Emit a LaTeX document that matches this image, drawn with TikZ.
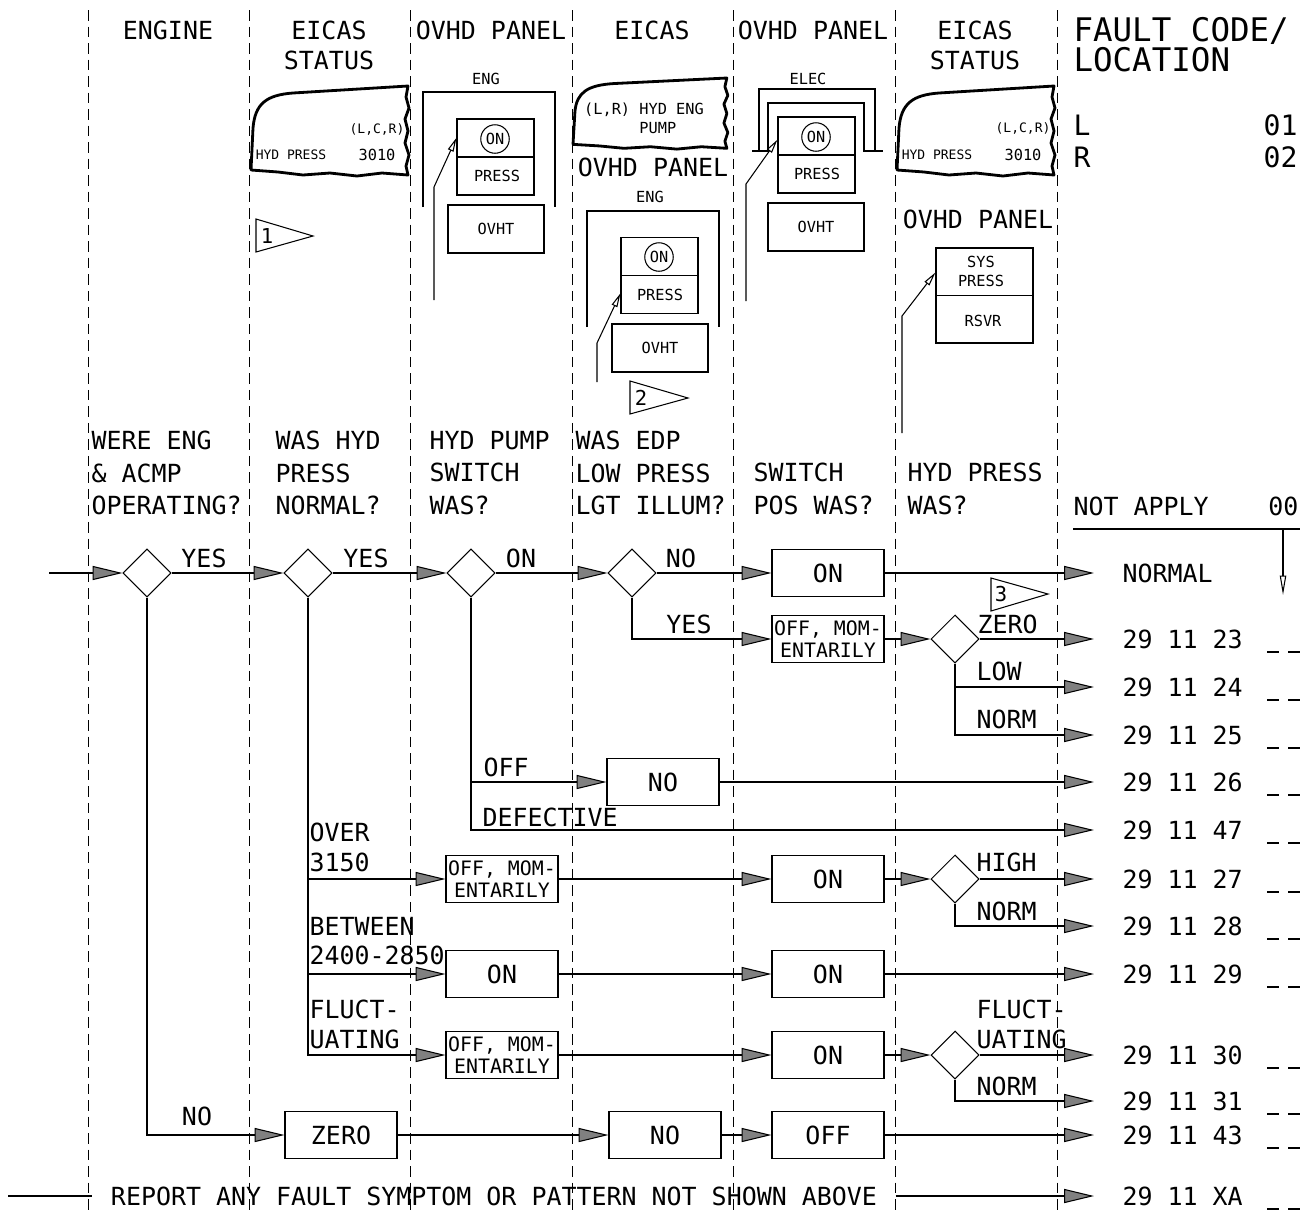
\documentclass[tikz,border=0pt]{standalone}
\usepackage{fontspec}
\setmainfont{DejaVu Sans Mono}
\usepackage{tikz}
\usetikzlibrary{arrows.meta, shapes.geometric, calc}

\begin{document}
\begin{tikzpicture}[
  x=0.02cm, y=-0.02cm,
  font=\fontsize{14.2pt}{18.7pt}\selectfont,
  line width=0.6pt,
  colsep/.style={line width=0.5pt, dash pattern=on 6pt off 3.4pt},
  txt/.style={inner sep=0pt},
  hdr/.style={txt, align=center, font=\fontsize{14.2pt}{17pt}\selectfont},
  qtext/.style={txt, anchor=west, align=left},
  branchtext/.style={txt, anchor=west, align=left, font=\fontsize{14.2pt}{17pt}\selectfont},
  bigtext/.style={txt, anchor=west, align=left, font=\fontsize{18.5pt}{17pt}\selectfont},
  loctext/.style={txt, font=\fontsize{16pt}{17pt}\selectfont},
  paneltext/.style={txt, font=\fontsize{8.7pt}{10.8pt}\selectfont},
  screentext/.style={txt, font=\fontsize{7.4pt}{9pt}\selectfont},
  flagnum/.style={txt, font=\fontsize{11.7pt}{12pt}\selectfont},
  choice/.style={draw, diamond, aspect=1, minimum width=0.96cm, minimum height=0.96cm, inner sep=0pt},
  actbox/.style={draw, rectangle, minimum width=2.24cm, minimum height=0.94cm, inner sep=0pt},
  momentbox/.style={actbox, align=center, font=\fontsize{11.3pt}{12.5pt}\selectfont},
  swbox/.style={draw, minimum width=1.54cm, minimum height=1.52cm, inner sep=0pt},
  ovhtbox/.style={draw, paneltext, minimum width=1.92cm, minimum height=0.96cm},
  onlamp/.style={draw, circle, paneltext, minimum size=0.57cm},
  faultcode/.style={anchor=west, inner ysep=0pt, inner xsep=0.56cm},
  flow/.style={-{Triangle[length=17pt, width=8pt, fill=gray]}},
  pointer/.style={-{Triangle[open, length=8pt, width=3.4pt]}},
  screen/.pic={
    \draw[line width=1.6pt, line join=round] (0,84) -- (2,42)
      .. controls (4,18) and (15,9) .. (42,7) -- (157,0) -- (155,11) -- (158,22)
      -- (154,33) -- (157,45) -- (154,57) -- (158,69) -- (155,80) -- (157,89)
      -- (131,87) -- (106,90) -- (79,87) -- (52,89) -- (27,86) -- cycle;
  }
]
\useasboundingbox (0,0) rectangle (1308,1211);

% column rules
\foreach \cx in {88,249,410,572,733,895,1057}
  \draw[colsep] (\cx,10) -- (\cx,1211);

% headings
\node[hdr] (hEngine) at (168,30) {ENGINE};
\node[hdr] (hStatA) at (329,45) {EICAS\\STATUS};
\node[hdr] (hOvhdA) at (491,30) {OVHD PANEL};
\node[hdr] (hEicas) at (652,30) {EICAS};
\node[hdr] (hOvhdB) at (813,30) {OVHD PANEL};
\node[hdr] (hStatB) at (975,45) {EICAS\\STATUS};
\node[bigtext] (hFault) at (1073,45) {FAULT CODE/\\LOCATION};
\node[loctext, anchor=west] (locL) at (1073,125) {L};
\node[loctext, anchor=west] (locR) at (1073,157) {R};
\node[loctext, anchor=east] (codeL) at (1298,125) {01};
\node[loctext, anchor=east] (codeR) at (1298,157) {02};

% eicas status screen, col 2
\pic at (251,86) {screen};
\node[screentext] (scrAa) at (377,129) {(L,C,R)};
\node[screentext] (scrAb) at (291,155) {HYD PRESS};
\node[paneltext] (scrAc) at (377,155) {3010};
\draw (256,219) -- (256,252) -- (313,236) -- cycle;
\node[flagnum] (flagA) at (267,236) {1};

% ovhd panel, col 3
\node[paneltext] (engA) at (486,79) {ENG};
\draw (423,207) -- (423,92) -- (555,92) -- (555,207);
\node[swbox] (swA) at (495.5,157) {};
\draw (swA.west) -- (swA.east);
\node[onlamp] (onA) at (495,139) {ON};
\node[paneltext] (prA) at (497,176) {PRESS};
\node[ovhtbox] (ovA) at (496,229) {OVHT};
\coordinate (ptA) at (434,300);
\draw[pointer] (ptA) -- (434,187) -- ($(swA.north west)!0.25!(swA.south west)$);

% eicas msg + ovhd panel, col 4
\pic[xscale=0.98, yscale=0.79] at (573,78) {screen};
\node[paneltext, align=left] (scrB) at (644,119) {(L,R) HYD ENG\\\phantom{(L,R) }PUMP};
\node[hdr] (pnlB) at (653,167) {OVHD PANEL};
\node[paneltext] (engB) at (650,197) {ENG};
\draw (587,327) -- (587,211) -- (719,211) -- (719,327);
\node[swbox] (swB) at (659.5,275.5) {};
\draw (swB.west) -- (swB.east);
\node[onlamp] (onB) at (659,257) {ON};
\node[paneltext] (prB) at (660,295) {PRESS};
\node[ovhtbox] (ovB) at (660,348) {OVHT};
\coordinate (ptB) at (597,382);
\draw[pointer] (ptB) -- (597,343) -- ($(swB.north west)!0.73!(swB.south west)$);
\draw (630,381) -- (630,414) -- (688,398) -- cycle;
\node[flagnum] (flagB) at (641,398) {2};

% ovhd panel, col 5
\node[paneltext] (elec) at (808,79) {ELEC};
\draw (759,151) -- (759,89) -- (875,89) -- (875,151);
\draw (752,151) -- (768,151) -- (768,103) -- (864,103) -- (864,151) -- (883,151);
\node[swbox] (swC) at (816.5,155) {};
\draw (swC.west) -- (swC.east);
\node[onlamp] (onC) at (816,137) {ON};
\node[paneltext] (prC) at (817,174) {PRESS};
\node[ovhtbox] (ovC) at (816,227) {OVHT};
\coordinate (ptC) at (746,301);
\draw[pointer] (ptC) -- (746,184) -- ($(swC.north west)!0.3!(swC.south west)$);

% eicas status + ovhd panel, col 6
\pic at (897,86) {screen};
\node[screentext] (scrCa) at (1023,128) {(L,C,R)};
\node[screentext] (scrCb) at (937,155) {HYD PRESS};
\node[paneltext] (scrCc) at (1023,155) {3010};
\node[hdr] (pnlC) at (978,219) {OVHD PANEL};
\node[draw, minimum width=1.94cm, minimum height=1.9cm, inner sep=0pt] (sys) at (984.5,295.5) {};
\draw (sys.west) -- (sys.east);
\node[paneltext, align=center] (sysP) at (981,271) {SYS\\PRESS};
\node[paneltext] (rsvr) at (983,321) {RSVR};
\coordinate (ptD) at (902,433);
\draw[pointer] (ptD) -- (902,316) -- ($(sys.north west)!0.26!(sys.south west)$);

% questions
\node[qtext] (qEng) at (91,473) {WERE ENG\\\& ACMP\\OPERATING?};
\node[qtext] (qPress) at (275,473) {WAS HYD\\PRESS\\NORMAL?};
\node[qtext] (qPump) at (429,473) {HYD PUMP\\SWITCH\\WAS?};
\node[qtext] (qEdp) at (575,473) {WAS EDP\\LOW PRESS\\LGT ILLUM?};
\node[qtext] (qPos) at (753,489) {SWITCH\\POS WAS?};
\node[qtext] (qHyd) at (907,489) {HYD PRESS\\WAS?};
\node[qtext] (notAp) at (1073,506) {NOT APPLY};
\node[txt, anchor=east] (code00) at (1299,506) {00};
\coordinate (naL) at (1073,529);
\coordinate (naR) at (1300,529);
\coordinate (naTop) at (1283,529);
\coordinate (naBot) at (1283,595);
\draw (naL) -- (naR);
\draw[-{Triangle[open, length=11pt, width=3.6pt]}] (naTop) -- (naBot);

% fault codes
\foreach \nm/\yy/\cd in {Normal/573/NORMAL, 23/639/29 11 23, 24/687/29 11 24,
    25/735/29 11 25, 26/782/29 11 26, 47/830/29 11 47, 27/879/29 11 27,
    28/926/29 11 28, 29/974/29 11 29, 30/1055/29 11 30, 31/1101/29 11 31,
    43/1135/29 11 43, XA/1196/29 11 XA}
  \node[faultcode] (c\nm) at (1094,\yy) {\cd};
\foreach \yy in {639,687,735,782,830,879,926,974,1055,1101,1135,1196}
  \draw (1267,\yy+13) -- (1279,\yy+13) (1288,\yy+13) -- (1300,\yy+13);

% decisions and actions
\coordinate (start) at (49,573);
\node[choice] (d1) at (147,573) {};
\node[choice] (d2) at (308,573) {};
\node[choice] (d3) at (471,573) {};
\node[choice] (d4) at (632,573) {};
\node[actbox] (bOn1) at (828,573) {ON};
\node[momentbox] (bMom1) at (828,639) {OFF, MOM-\\ENTARILY};
\node[choice] (d6) at (955,639) {};
\node[actbox] (bNo2) at (663,782) {NO};
\node[momentbox] (bMom2) at (502,879) {OFF, MOM-\\ENTARILY};
\node[actbox] (bOn2) at (828,879) {ON};
\node[choice] (d8) at (955,879) {};
\node[actbox] (bOn3) at (502,974) {ON};
\node[actbox] (bOn4) at (828,974) {ON};
\node[momentbox] (bMom3) at (502,1055) {OFF, MOM-\\ENTARILY};
\node[actbox] (bOn5) at (828,1055) {ON};
\node[choice] (d7) at (955,1055) {};
\node[actbox] (bZero) at (341,1135) {ZERO};
\node[actbox] (bNo3) at (665,1135) {NO};
\node[actbox] (bOff) at (828,1135) {OFF};

% branch labels
\node[txt] (yesA) at (204,558) {YES};
\node[txt] (yesB) at (366,558) {YES};
\node[txt] (onLbl) at (521,558) {ON};
\node[txt] (noA) at (681,558) {NO};
\node[txt] (yesC) at (689,624) {YES};
\node[txt] (noB) at (197,1116) {NO};
\node[branchtext] (offLbl) at (483,767) {OFF};
\node[branchtext] (defLbl) at (482,817) {DEFECTIVE};
\node[branchtext] (overLbl) at (309,847) {OVER\\3150};
\node[branchtext] (betwLbl) at (309,941) {BETWEEN\\2400-2850};
\node[branchtext] (flucA) at (309,1024) {FLUCT-\\UATING};
\node[branchtext] (zeroLbl) at (977,624) {ZERO};
\node[branchtext] (lowLbl) at (976,671) {LOW};
\node[branchtext] (normA) at (976,719) {NORM};
\node[branchtext] (highLbl) at (976,862) {HIGH};
\node[branchtext] (normB) at (976,911) {NORM};
\node[branchtext] (flucB) at (976,1024) {FLUCT-\\UATING};
\node[branchtext] (normC) at (976,1086) {NORM};
\draw (991,578) -- (991,611) -- (1048,594) -- cycle;
\node[flagnum] (flagC) at (1001,594) {3};

% connectors
\draw[flow] (start) -- (d1);
\draw[flow] (d1) -- (d2);
\draw[flow] (d2) -- (d3);
\draw[flow] (d3) -- (d4);
\draw[flow] (d4) -- (bOn1);
\draw[flow] (bOn1) -- (cNormal);
\draw[flow] (d4.south) |- (bMom1);
\draw[flow] (bMom1) -- (d6);
\draw[flow] (d6) -- (c23);
\draw[flow] (d6.south) |- (c24);
\draw[flow] (d6.south) |- (c25);
\draw[flow] (d3.south) |- (bNo2);
\draw[flow] (bNo2) -- (c26);
\draw[flow] (d3.south) |- (c47);
\draw[flow] (d2.south) |- (bMom2);
\draw[flow] (bMom2) -- (bOn2);
\draw[flow] (bOn2) -- (d8);
\draw[flow] (d8) -- (c27);
\draw[flow] (d8.south) |- (c28);
\draw[flow] (d2.south) |- (bOn3);
\draw[flow] (bOn3) -- (bOn4);
\draw[flow] (bOn4) -- (c29);
\draw[flow] (d2.south) |- (bMom3);
\draw[flow] (bMom3) -- (bOn5);
\draw[flow] (bOn5) -- (d7);
\draw[flow] (d7) -- (c30);
\draw[flow] (d7.south) |- (c31);
\draw[flow] (d1.south) |- (bZero);
\draw[flow] (bZero) -- (bNo3);
\draw[flow] (bNo3) -- (bOff);
\draw[flow] (bOff) -- (c43);

% catch-all row
\coordinate (rin) at (8,1196);
\node[txt, inner xsep=0.36cm] (report) at (494,1196) {REPORT ANY FAULT SYMPTOM OR PATTERN NOT SHOWN ABOVE};
\draw (rin) -- (report.west);
\draw[flow] (report.east) -- (cXA);
\end{tikzpicture}
\end{document}
